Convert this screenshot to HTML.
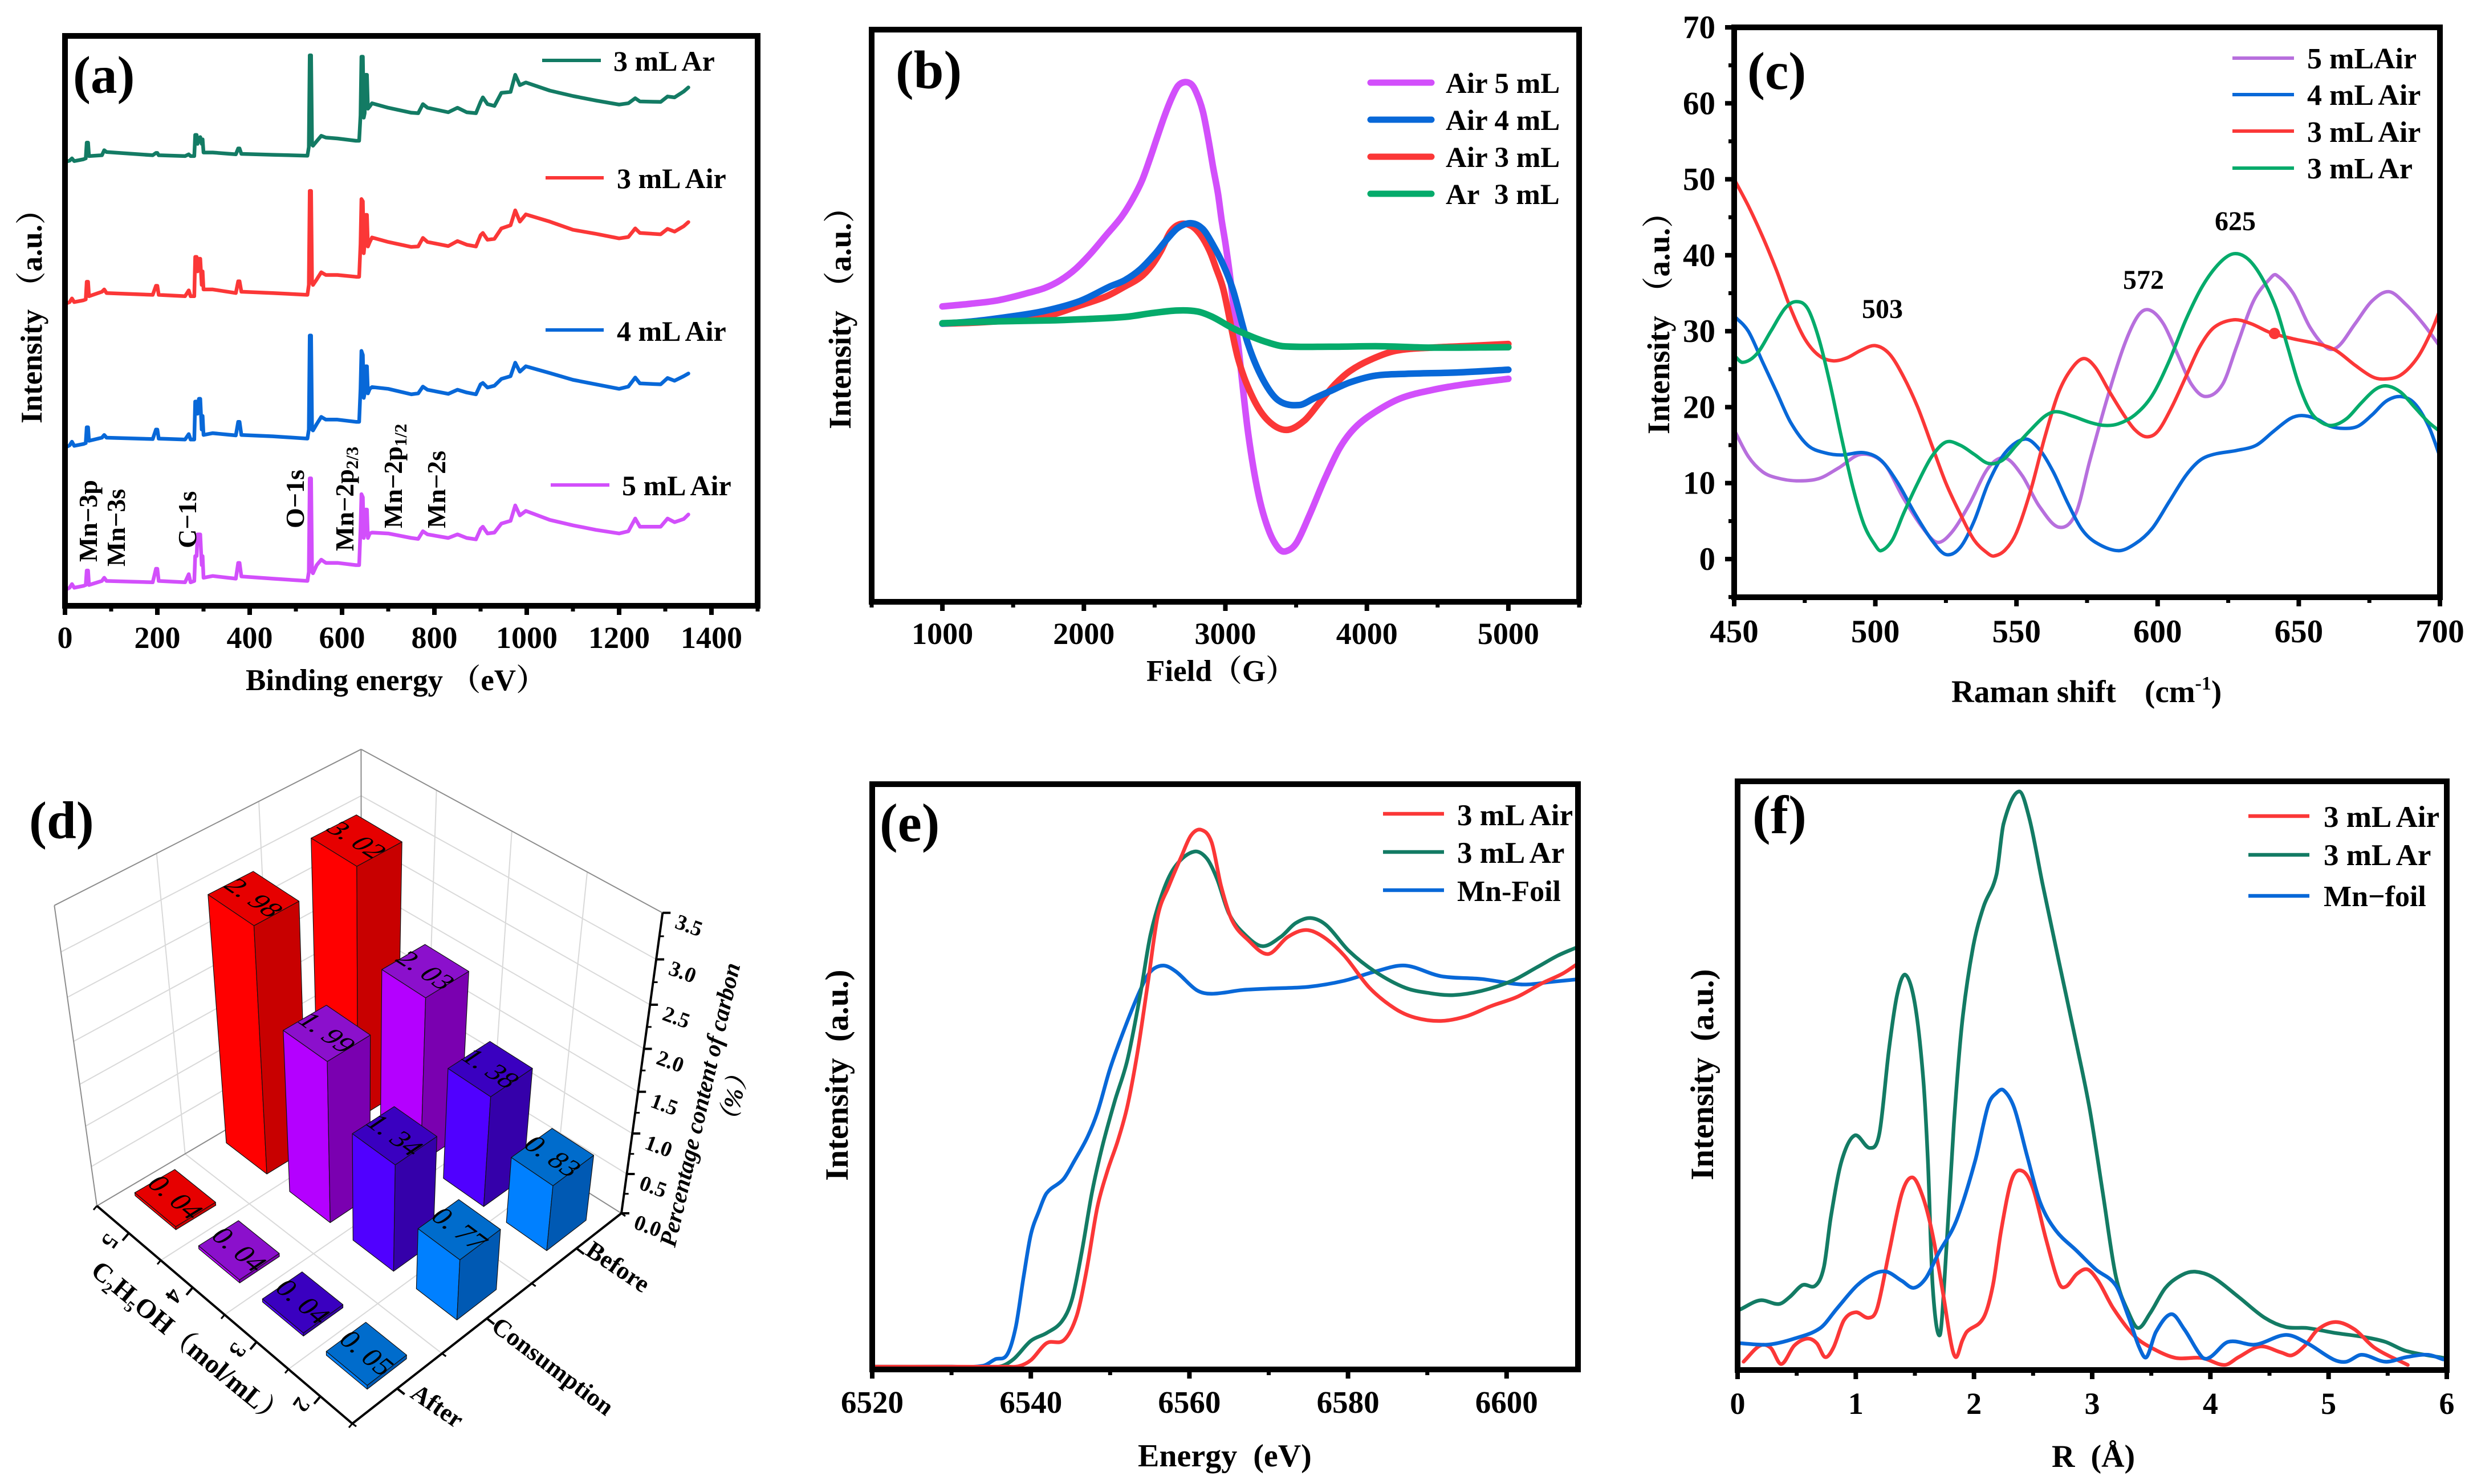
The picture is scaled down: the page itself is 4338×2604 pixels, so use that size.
<!DOCTYPE html>
<html lang="en">
<head>
<meta charset="utf-8">
<title>Six-panel characterization figure</title>
<style>
html,body{margin:0;padding:0;background:#fff;}
svg{display:block;font-family:"Liberation Serif","Noto Serif CJK SC",serif;font-weight:bold;fill:#000;}
</style>
</head>
<body>
<svg id="figure" xmlns="http://www.w3.org/2000/svg" width="4338" height="2604" viewBox="0 0 4338 2604">
<rect x="0" y="0" width="4338" height="2604" fill="#fff"/>
<g id="plots"></g>

<g>
<text x="128" y="163" font-size="93">(a)</text>
<text x="431" y="1211" font-size="53">Binding energy （eV）</text>
<text transform="translate(73,743) rotate(-90)" font-size="53">Intensity （a.u.）</text>
<line x1="951" y1="106" x2="1054" y2="106" stroke="#137b64" stroke-width="6"/>
<text x="1076" y="124" font-size="50">3 mL Ar</text>
<line x1="957" y1="312" x2="1059" y2="312" stroke="#fb3737" stroke-width="6"/>
<text x="1082" y="330" font-size="50">3 mL Air</text>
<line x1="957" y1="579" x2="1059" y2="579" stroke="#0868d8" stroke-width="6"/>
<text x="1082" y="598" font-size="50">4 mL Air</text>
<line x1="966" y1="851" x2="1069" y2="851" stroke="#d24ffb" stroke-width="6"/>
<text x="1091" y="869" font-size="50">5 mL Air</text>
<text transform="translate(170,986) rotate(-90)" font-size="46">Mn−3p</text>
<text transform="translate(219,994) rotate(-90)" font-size="46">Mn−3s</text>
<text transform="translate(344,962) rotate(-90)" font-size="46">C−1s</text>
<text transform="translate(533,927) rotate(-90)" font-size="46">O−1s</text>
<text transform="translate(620,967) rotate(-90)" font-size="46">Mn−2p<tspan font-size="31" dy="8">2/3</tspan></text>
<text transform="translate(705,927) rotate(-90)" font-size="46">Mn−2p<tspan font-size="31" dy="8">1/2</tspan></text>
<text transform="translate(781,927) rotate(-90)" font-size="46">Mn−2s</text>
</g>

<g>
<text x="1571" y="155" font-size="95">(b)</text>
<text x="2011" y="1195" font-size="53">Field（G）</text>
<text transform="translate(1492,753) rotate(-90)" font-size="55">Intensity （a.u.）</text>
<g stroke-linecap="round" stroke-width="11">
<line x1="2404" y1="145" x2="2511" y2="145" stroke="#d24ffb"/>
<line x1="2404" y1="210" x2="2511" y2="210" stroke="#0868d8"/>
<line x1="2404" y1="275" x2="2511" y2="275" stroke="#fb3737"/>
<line x1="2404" y1="340" x2="2511" y2="340" stroke="#05ab6b"/>
</g>
<text x="2536" y="163" font-size="51">Air 5 mL</text>
<text x="2536" y="228" font-size="51">Air 4 mL</text>
<text x="2536" y="293" font-size="51">Air 3 mL</text>
<text x="2536" y="358" font-size="51" xml:space="preserve">Ar&#160;&#160;3 mL</text>
</g>

<g>
<text x="3065" y="156" font-size="93">(c)</text>
<text x="3423" y="1232" font-size="55">Raman shift</text>
<text x="3762" y="1232" font-size="55">(cm<tspan font-size="34" dy="-22">-1</tspan><tspan dy="22">)</tspan></text>
<text transform="translate(2928,762) rotate(-90)" font-size="55">Intensity （a.u.）</text>
<g stroke-width="6">
<line x1="3916" y1="102" x2="4024" y2="102" stroke="#b76fdd"/>
<line x1="3916" y1="166" x2="4024" y2="166" stroke="#0868d8"/>
<line x1="3916" y1="230" x2="4024" y2="230" stroke="#fb3737"/>
<line x1="3916" y1="295" x2="4024" y2="295" stroke="#05ab6b"/>
</g>
<text x="4047" y="120" font-size="52">5 mLAir</text>
<text x="4047" y="184" font-size="52">4 mL Air</text>
<text x="4047" y="249" font-size="52">3 mL Air</text>
<text x="4047" y="313" font-size="52">3 mL Ar</text>
<text x="3302" y="558" font-size="48" text-anchor="middle">503</text>
<text x="3760" y="507" font-size="48" text-anchor="middle">572</text>
<text x="3921" y="404" font-size="48" text-anchor="middle">625</text>
</g>

<g>
<text x="51" y="1471" font-size="93">(d)</text>
<text transform="translate(1184,2190) rotate(-77)" font-size="42" font-style="italic">Percentage content of carbon</text>
<text transform="translate(1288,1990) rotate(-78)" font-size="43" font-style="italic">（%）</text>
<text transform="translate(157,2234) rotate(39.6)" font-size="47">C<tspan font-size="28" dy="10">2</tspan><tspan dy="-10">H</tspan><tspan font-size="28" dy="10">5</tspan><tspan dy="-10">OH（mol/mL）</tspan></text>
<text transform="translate(759,2479) rotate(34.6)" font-size="44" text-anchor="middle">After</text>
<text transform="translate(961,2409) rotate(37)" font-size="44" text-anchor="middle">Consumption</text>
<text transform="translate(1076,2235) rotate(34)" font-size="44" text-anchor="middle">Before</text>
</g>

<g>
<text x="1543" y="1476" font-size="95">(e)</text>
<text x="1996" y="2573" font-size="56" xml:space="preserve">Energy&#160;&#160;(eV)</text>
<text transform="translate(1487,2072) rotate(-90)" font-size="57" xml:space="preserve">Intensity&#160;&#160;(a.u.)</text>
<g stroke-width="6.5">
<line x1="2426" y1="1428" x2="2533" y2="1428" stroke="#fb3737"/>
<line x1="2426" y1="1495" x2="2533" y2="1495" stroke="#137b64"/>
<line x1="2426" y1="1562" x2="2533" y2="1562" stroke="#0868d8"/>
</g>
<text x="2556" y="1448" font-size="53">3 mL Air</text>
<text x="2556" y="1514" font-size="53">3 mL Ar</text>
<text x="2556" y="1581" font-size="52">Mn-Foil</text>
</g>

<g>
<text x="3074" y="1462" font-size="95">(f)</text>
<text x="3599" y="2574" font-size="56" xml:space="preserve">R&#160;&#160;(Å)</text>
<text transform="translate(3005,2071) rotate(-90)" font-size="57" xml:space="preserve">Intensity&#160;&#160;(a.u.)</text>
<g stroke-width="6.5">
<line x1="3944" y1="1432" x2="4051" y2="1432" stroke="#fb3737"/>
<line x1="3944" y1="1500" x2="4051" y2="1500" stroke="#137b64"/>
<line x1="3944" y1="1572" x2="4051" y2="1572" stroke="#0868d8"/>
</g>
<text x="4076" y="1451" font-size="53">3 mL Air</text>
<text x="4076" y="1518" font-size="53">3 mL Ar</text>
<text x="4076" y="1590" font-size="52">Mn−foil</text>
</g>
</svg>

<script>
/* ---------- panel a: XPS survey ---------- */
const xpsEnergy = [0,10,15,20,40,45,47,50,52,80,85,90,190,197,200,203,260,268,272,280,282,285,287,290,293,296,298,300,320,370,375,378,382,450,525,528,530,533,535,537,545,555,565,590,630,637,640,642,645,647,649,651,654,656,660,665,700,750,765,775,785,830,850,870,890,900,905,915,930,945,965,975,985,998,1050,1100,1150,1200,1220,1235,1245,1290,1305,1320,1340,1350];
const xpsAr3 = [982,985,990,984,988,990,1025,1025,995,997,1008,1004,997,1002,1002,997,995,999,995,995,1042,1042,1022,1035,1037,1022,1032,1003,1003,999,1012,1012,1000,998,996,1015,1218,1218,1020,1018,1028,1040,1036,1034,1029,1029,1085,1215,1215,1080,1090,1175,1175,1100,1105,1112,1102,1091,1090,1110,1102,1092,1102,1092,1090,1115,1125,1110,1106,1135,1137,1175,1152,1158,1140,1128,1118,1109,1112,1123,1116,1115,1127,1125,1138,1147];
const xpsAir3 = [668,672,680,672,676,678,717,717,685,695,700,692,688,708,708,688,685,698,685,685,772,772,740,768,768,710,740,700,700,692,718,718,695,692,688,710,918,918,715,710,722,738,732,732,728,728,800,900,895,780,800,865,865,795,805,815,805,794,795,814,805,796,807,799,795,820,825,810,812,835,842,875,850,866,850,832,823,813,816,835,825,822,834,828,840,849];
const xpsAir4 = [350,355,363,354,358,360,395,395,365,372,378,372,369,390,390,370,368,380,368,368,452,452,425,458,458,390,420,378,382,377,407,407,378,375,370,390,598,598,390,388,402,418,412,412,407,407,480,564,555,460,470,530,530,470,480,484,480,468,470,485,478,469,478,472,468,490,493,483,487,502,508,538,518,530,515,500,490,480,485,505,492,490,504,498,508,514];
const xpsAir5 = [35,40,48,40,44,46,78,78,46,55,62,55,52,82,82,55,52,70,52,55,110,110,158,158,158,90,110,62,66,60,95,95,65,60,55,75,282,282,75,72,90,102,95,95,90,90,170,247,240,150,160,213,213,150,160,162,160,150,148,165,158,150,158,150,147,170,175,160,162,182,188,222,200,210,190,178,168,160,165,193,175,175,193,185,192,202];
const xpsMajorTicks = [0,200,400,600,800,1000,1200,1400];
const xpsMinorTicks = [100,300,500,700,900,1100,1300,1500];

/* ---------- panel b: EPR ---------- */
const eprFieldAir5 = [1000,1200,1400,1619,1725,1834,1941,2048,2156,2263,2344,2410,2465,2519,2572,2626,2666,2712,2760,2793,2841,2881,2913,2948,2974,3002,3034,3088,3160,3232,3304,3376,3430,3502,3592,3700,3808,3916,4060,4240,4456,4672,5000];
const eprAir5 = [653,659,667,684,694,711,736,770,810,850,890,931,978,1028,1076,1118,1141,1149,1144,1127,1084,1020,961,902,843,789,717,575,375,240,160,118,112,130,190,270,340,385,420,450,468,480,493];
const eprFieldAir4 = [1000,1216,1468,1720,1972,2183,2289,2398,2505,2586,2666,2760,2841,2913,2988,3055,3160,3268,3376,3520,3628,3736,3880,4060,4276,4636,5000];
const eprAir4 = [615,620,630,643,665,697,711,735,770,801,827,837,824,789,743,688,570,490,445,435,450,465,485,500,504,507,513];
const eprFieldAir3 = [1000,1216,1468,1720,1972,2156,2289,2398,2478,2545,2611,2680,2760,2827,2888,2934,2988,3088,3196,3304,3430,3556,3664,3772,3880,4024,4204,4456,4744,5000];
const eprAir3 = [615,617,622,630,655,675,697,717,743,776,818,835,831,810,776,738,688,540,450,400,380,400,440,480,510,535,555,562,566,570];
const eprFieldAr3 = [1000,1396,1756,2008,2296,2476,2656,2800,2908,3052,3196,3304,3412,3736,4096,4456,5000];
const eprAr3 = [616,620,622,625,630,638,644,642,630,605,585,573,565,564,565,562,563];
const eprMajorTicks = [1000,2000,3000,4000,5000];
const eprMinorTicks = [500,1500,2500,3500,4500,5500];

/* ---------- panel c: Raman ---------- */
const ramanXAir5 = [450,455,460,465,472,480,487,495,503,510,517,522,527,533,540,546,552,558,565,571,576,582,588,593,597,602,607,612,617,623,628,634,640,642,648,654,660,664,670,676,682,688,694,700];
const ramanAir5 = [17,13.5,11.5,10.7,10.3,10.6,12,13.8,12.6,8,4,2.2,3.5,7,12,13.3,11,7,4.2,6,13,21,28,32,32.8,31,27,23,21.4,23,28,34,37,37.4,35,30.5,27.8,28,31,34,35.2,33.5,31,28];
const ramanXAir4 = [450,455,460,465,470,476,482,488,496,502,508,514,520,525,530,535,540,546,553,558,563,568,573,578,586,592,598,604,610,615,620,628,635,641,647,651,656,661,666,671,676,681,686,691,696,700];
const ramanAir4 = [32,30,26,22,18,15,14,13.7,14,13,10,6,2.5,0.6,1.5,5,10,14,15.8,14.5,11.5,7.5,4,2.2,1.1,2,4,7.5,11,13,13.8,14.3,15,16.8,18.5,18.9,18.5,17.5,17.2,17.5,19,20.8,21.4,20.5,17.5,13.5];
const ramanXAir3 = [450,455,460,465,470,475,480,485,490,495,500,505,510,515,520,525,530,535,540,542,546,550,555,560,565,570,574,578,583,588,592,596,600,605,610,615,620,627,633,640,648,657,663,670,676,680,686,692,697,700];
const ramanAir3 = [50,46.5,42.5,38,33,29,26.8,26.1,26.5,27.5,28.1,27,24,20,15,10,6,2.5,0.7,0.4,1.2,3.5,9,16,22,25.3,26.4,25.2,22,19,17,16.1,16.8,20,24,28,30.5,31.5,31,29.8,29,28.3,27.5,25.5,24,23.7,24.2,26.5,30,32.8];
const ramanXAr3 = [450,453,458,463,468,472,476,480,484,488,492,496,500,502,506,510,515,520,525,530,535,540,545,550,555,560,564,570,576,581,586,592,598,604,610,616,622,627,632,637,642,646,650,654,658,662,667,672,677,681,686,691,696,700];
const ramanAr3 = [26.8,25.9,27,30,33,33.9,33,29,23,16,9.5,4.5,1.8,1.1,2.5,6,10,13.5,15.4,15,13.8,12.6,13,15,17,18.8,19.4,18.8,18,17.6,17.8,19,21.5,26,31.5,36,39,40.2,39.5,37,33,28,23,19.5,18,17.6,18.5,20.5,22.3,22.8,22,20,18,16.8];
const ramanMarkerX = [641.4];
const ramanMarkerY = [29.7];
const ramanXMajorTicks = [450,500,550,600,650,700];
const ramanXMinorTicks = [475,525,575,625,675];
const ramanYMajorTicks = [0,10,20,30,40,50,60,70];
const ramanYMinorTicks = [-5,5,15,25,35,45,55,65];

/* ---------- panel d: 3D bars ---------- */
const concentrations = [5,4,3,2];
const treatments = ['After','Consumption','Before'];
const carbonAfter = [0.04,0.04,0.04,0.05];
const carbonConsumption = [2.98,1.99,1.34,0.77];
const carbonBefore = [3.02,2.03,1.38,0.83];
const carbonZTicks = [0,0.5,1,1.5,2,2.5,3,3.5];

/* ---------- panel e: XANES ---------- */
const xanesEAir = [6520,6530,6537,6538.5,6540,6542,6544.2,6545.8,6547,6548.4,6549.7,6551,6552.2,6553.5,6554.8,6556,6557.4,6559,6560.2,6561.5,6562.8,6564,6565.4,6567.3,6569.9,6572.4,6574.7,6576.9,6579.5,6582.7,6585.9,6588.5,6591.7,6594.9,6598,6601.3,6604.5,6607,6608.8];
const xanesAir = [6,6,6,7,20,57,64,117,212,352,432,497,572,692,842,982,1047,1112,1157,1169,1142,1047,972,932,900,937,952,937,897,827,782,762,755,765,787,807,837,857,877];
const xanesEAr = [6520,6530,6536,6537.8,6540,6542,6543.9,6545.2,6546.4,6547.7,6549,6550.6,6552.2,6553.8,6555.1,6556.7,6558.3,6560.6,6562.2,6563.5,6565,6567,6569.2,6571.5,6573.4,6575.3,6577.3,6580.1,6583.4,6587.2,6590.4,6593.3,6596.8,6600.7,6603.9,6606.5,6608.8];
const xanesAr = [6,6,6,22,62,79,104,152,252,382,482,582,672,812,942,1037,1092,1122,1107,1062,987,942,917,937,967,978,962,907,862,827,815,811,820,842,872,897,914];
const xanesEFoil = [6520,6530,6534,6535.5,6537,6538.1,6539.1,6540,6541,6542,6544.1,6545.5,6547.1,6548.4,6550,6551.9,6553.8,6555.1,6556.7,6558.3,6560.9,6562.8,6566.7,6569.9,6575,6579.5,6583.4,6587.2,6591.7,6596.8,6602,6605.8,6608.8];
const xanesFoil = [6,6,8,22,32,92,202,292,342,382,412,452,502,557,652,742,822,862,875,862,822,814,822,825,829,842,862,875,852,846,834,840,845];
const xanesMajorTicks = [6520,6540,6560,6580,6600];
const xanesMinorTicks = [6530,6550,6570,6590];

/* ---------- panel f: EXAFS ---------- */
const exafsRAir = [0.05,0.19,0.28,0.37,0.48,0.59,0.67,0.74,0.81,0.9,1,1.11,1.18,1.28,1.39,1.48,1.57,1.65,1.74,1.81,1.85,1.9,1.94,2.08,2.16,2.23,2.32,2.41,2.5,2.61,2.72,2.78,2.87,2.96,3.05,3.18,3.36,3.54,3.71,3.93,4.12,4.24,4.42,4.6,4.69,4.8,4.91,5.06,5.22,5.39,5.67];
const exafsAir = [18,53,48,13,53,68,58,28,48,108,125,113,133,253,383,417,373,293,163,53,28,63,83,113,183,303,413,431,393,283,188,181,208,218,193,133,73,43,26,26,11,28,51,38,32,53,88,104,88,48,11];
const exafsRAr = [0.02,0.19,0.35,0.44,0.55,0.66,0.73,0.79,0.88,0.99,1.12,1.2,1.28,1.35,1.42,1.5,1.57,1.61,1.65,1.71,1.75,1.83,1.9,1.99,2.08,2.19,2.25,2.38,2.47,2.58,2.72,2.87,2.98,3.09,3.2,3.31,3.39,3.49,3.62,3.76,3.87,4.02,4.24,4.46,4.64,4.82,5.04,5.31,5.48,5.66,6];
const exafsAr = [131,151,143,158,184,183,223,333,453,508,481,513,693,813,856,793,633,453,183,75,193,533,753,913,1003,1073,1183,1253,1193,1053,883,703,563,383,203,123,91,123,178,206,213,201,158,113,93,91,81,71,61,41,25];
const exafsRFoil = [0.02,0.26,0.48,0.7,0.84,1.01,1.15,1.26,1.39,1.49,1.59,1.7,1.85,2.01,2.12,2.19,2.25,2.34,2.45,2.56,2.69,2.87,3.03,3.2,3.31,3.4,3.46,3.54,3.67,3.78,3.93,4,4.15,4.38,4.64,4.82,5.04,5.15,5.28,5.48,5.66,5.84,5.97];
const exafsFoil = [58,55,68,91,133,183,208,213,193,178,198,253,323,453,573,600,606,568,463,363,303,258,218,183,113,48,28,83,121,88,28,28,61,55,76,58,23,18,33,18,28,33,23];
const exafsMajorTicks = [0,1,2,3,4,5,6];
const exafsMinorTicks = [0.5,1.5,2.5,3.5,4.5,5.5];

/* ---------- helpers ---------- */
const SVG_NS = 'http://www.w3.org/2000/svg';
const plots = document.getElementById('plots');

function mk(tag){ return document.createElementNS(SVG_NS, tag); }
function scale(d0,d1,r0,r1){ return function(v){ return r0+(v-d0)*(r1-r0)/(d1-d0); }; }

function panelGroup(name){
  const g = mk('g');
  
  
  plots.appendChild(g);
  return g;
}

function straightPath(xs,ys,sx,sy){
  let d='';
  for(let i=0;i<xs.length;i++){ d+=(i?'L':'M')+sx(xs[i]).toFixed(1)+' '+sy(ys[i]).toFixed(1); }
  return d;
}

function smoothPath(xs,ys,sx,sy){
  const px=xs.map(sx), py=ys.map(sy), n=px.length;
  const m=px.map(function(x,i){
    const a=Math.max(i-1,0), b=Math.min(i+1,n-1);
    return (py[b]-py[a])/(px[b]-px[a]);
  });
  let d='M'+px[0].toFixed(1)+' '+py[0].toFixed(1);
  for(let i=0;i<n-1;i++){
    const h=px[i+1]-px[i];
    d+='C'+(px[i]+h/3).toFixed(1)+' '+(py[i]+m[i]*h/3).toFixed(1)+' '+(px[i+1]-h/3).toFixed(1)+' '+(py[i+1]-m[i+1]*h/3).toFixed(1)+' '+px[i+1].toFixed(1)+' '+py[i+1].toFixed(1);
  }
  return d;
}

function drawSeries(parent,name,d,color,width){
  const el = mk('path');
  el.setAttribute('d', d);
  el.setAttribute('fill', 'none');
  el.setAttribute('stroke', color);
  el.setAttribute('stroke-width', width);
  el.setAttribute('stroke-linejoin', 'round');
  el.setAttribute('stroke-linecap', 'round');
  
  
  parent.appendChild(el);
}

function drawLine(parent,name,x1,y1,x2,y2,color,width){
  const el = mk('line');
  el.setAttribute('x1', x1);
  el.setAttribute('y1', y1);
  el.setAttribute('x2', x2);
  el.setAttribute('y2', y2);
  el.setAttribute('stroke', color);
  el.setAttribute('stroke-width', width);
  
  
  parent.appendChild(el);
}

function drawText(parent,name,str,x,y,size,anchor,transform){
  const el = mk('text');
  if(transform){ el.setAttribute('transform', transform); }
  else { el.setAttribute('x', x); el.setAttribute('y', y); }
  el.setAttribute('font-size', size);
  el.setAttribute('text-anchor', anchor);
  
  
  el.textContent = str;
  parent.appendChild(el);
  return el;
}

function drawFrame(parent,name,box){
  const el = mk('rect');
  el.setAttribute('x', box.l);
  el.setAttribute('y', box.t);
  el.setAttribute('width', box.r-box.l);
  el.setAttribute('height', box.b-box.t);
  el.setAttribute('fill', 'none');
  el.setAttribute('stroke', '#000');
  el.setAttribute('stroke-width', 10);
  
  
  parent.appendChild(el);
}

function drawXTicks(parent,box,sx,major,minor,labelY,size){
  major.forEach(function(v){
    drawLine(parent,'x-tick-major',sx(v),box.b,sx(v),box.b+16,'#000',8);
    drawText(parent,'x-tick-label',String(v),sx(v),labelY,size,'middle');
  });
  minor.forEach(function(v){
    drawLine(parent,'x-tick-minor',sx(v),box.b,sx(v),box.b+10,'#000',7);
  });
}

/* ---------- panel a ---------- */
(function(){
  const g = panelGroup('panel-a-xps');
  const box = {l:114,r:1329,t:63,b:1063};
  const sx = scale(0,1500,box.l,box.r);
  const sy = scale(0,1261,box.b,box.t);
  drawSeries(g,'series-3ml-ar',straightPath(xpsEnergy,xpsAr3,sx,sy),'#137b64',6.5);
  drawSeries(g,'series-3ml-air',straightPath(xpsEnergy,xpsAir3,sx,sy),'#fb3737',6.5);
  drawSeries(g,'series-4ml-air',straightPath(xpsEnergy,xpsAir4,sx,sy),'#0868d8',6.5);
  drawSeries(g,'series-5ml-air',straightPath(xpsEnergy,xpsAir5,sx,sy),'#d24ffb',6.5);
  drawFrame(g,'plot-frame-a',box);
  drawXTicks(g,box,sx,xpsMajorTicks,xpsMinorTicks,1137,54);
})();

/* ---------- panel b ---------- */
(function(){
  const g = panelGroup('panel-b-epr');
  const box = {l:1529,r:2770,t:52,b:1056};
  const sx = scale(500,5500,box.l,box.r);
  const sy = scale(0,1265,box.b,box.t);
  drawSeries(g,'series-air-5ml',smoothPath(eprFieldAir5,eprAir5,sx,sy),'#d24ffb',11.5);
  drawSeries(g,'series-air-3ml',smoothPath(eprFieldAir3,eprAir3,sx,sy),'#fb3737',11.5);
  drawSeries(g,'series-air-4ml',smoothPath(eprFieldAir4,eprAir4,sx,sy),'#0868d8',11.5);
  drawSeries(g,'series-ar-3ml',smoothPath(eprFieldAr3,eprAr3,sx,sy),'#05ab6b',11.5);
  drawFrame(g,'plot-frame-b',box);
  drawXTicks(g,box,sx,eprMajorTicks,eprMinorTicks,1130,54);
})();

/* ---------- panel c ---------- */
(function(){
  const g = panelGroup('panel-c-raman');
  const box = {l:3042,r:4280,t:48,b:1048};
  const sx = scale(450,700,box.l,box.r);
  const sy = scale(0,70,981,48);
  drawSeries(g,'series-5ml-air',smoothPath(ramanXAir5,ramanAir5,sx,sy),'#b76fdd',6);
  drawSeries(g,'series-4ml-air',smoothPath(ramanXAir4,ramanAir4,sx,sy),'#0868d8',6);
  drawSeries(g,'series-3ml-air',smoothPath(ramanXAir3,ramanAir3,sx,sy),'#fb3737',6);
  drawSeries(g,'series-3ml-ar',smoothPath(ramanXAr3,ramanAr3,sx,sy),'#05ab6b',6);
  ramanMarkerX.forEach(function(x,i){
    const dot = mk('circle');
    dot.setAttribute('cx', sx(x));
    dot.setAttribute('cy', sy(ramanMarkerY[i]));
    dot.setAttribute('r', 10);
    dot.setAttribute('fill', '#fb3737');
    
    
    g.appendChild(dot);
  });
  drawFrame(g,'plot-frame-c',box);
  drawXTicks(g,box,sx,ramanXMajorTicks,ramanXMinorTicks,1127,57);
  ramanYMajorTicks.forEach(function(v){
    drawLine(g,'y-tick-major',box.l-16,sy(v),box.l,sy(v),'#000',8);
    drawText(g,'y-tick-label',String(v),3009,sy(v)+19,57,'end');
  });
  ramanYMinorTicks.forEach(function(v){
    drawLine(g,'y-tick-minor',box.l-10,sy(v),box.l,sy(v),'#000',7);
  });
})();

/* ---------- panel d ---------- */
(function(){
  const g = panelGroup('panel-d-3d-bars');
  const L=[170,2116], F=[618,2498], R=[1090,2129], B=[634,1842];
  const zMax = 3.5;
  function floor(u,v){
    const a=(1-u)*(1-v), b=u*(1-v), c=u*v, d=(1-u)*v;
    return [a*L[0]+b*F[0]+c*R[0]+d*B[0], a*L[1]+b*F[1]+c*R[1]+d*B[1]];
  }
  function zHeight(z){ return 135.8*z+4.24*z*z; }
  function proj(u,v,z){
    const p=floor(u,v), h=zHeight(z);
    return [p[0]+h*(p[0]-637.6)*0.000303, p[1]-h];
  }
  function barProj(u,v,z){
    const p=floor(u,v), x=p[0]+16*(1-u)*v, h=zHeight(z)*0.985;
    return [x+h*(x-637.6)*0.000303+2, p[1]-h-9];
  }
  function uPos(i){ return (i+0.5)/concentrations.length; }
  function vPos(j){ return (j+0.5)/treatments.length; }
  function seg(name,a,b,color,w){ drawLine(g,name,a[0].toFixed(1),a[1].toFixed(1),b[0].toFixed(1),b[1].toFixed(1),color,w); }

  const gridColor='#d9d9d9', edgeColor='#8c8c8c';
  for(let k=1;k<concentrations.length;k++){
    const u=k/concentrations.length;
    seg('floor-grid-line',proj(u,0,0),proj(u,1,0),gridColor,2);
    seg('right-wall-grid-line',proj(u,1,0),proj(u,1,zMax),gridColor,2);
  }
  for(let k=1;k<treatments.length;k++){
    const v=k/treatments.length;
    seg('floor-grid-line',proj(0,v,0),proj(1,v,0),gridColor,2);
    seg('left-wall-grid-line',proj(0,v,0),proj(0,v,zMax),gridColor,2);
  }
  carbonZTicks.forEach(function(z){
    if(z>0 && z<zMax){
      seg('left-wall-grid-line',proj(0,0,z),proj(0,1,z),gridColor,2);
      seg('right-wall-grid-line',proj(0,1,z),proj(1,1,z),gridColor,2);
    }
  });
  seg('wall-edge',proj(0,0,0),proj(0,0,zMax),edgeColor,2);
  seg('wall-edge',proj(0,1,0),proj(0,1,zMax),edgeColor,2);
  seg('wall-edge',proj(0,0,zMax),proj(0,1,zMax),edgeColor,2);
  seg('wall-edge',proj(0,1,zMax),proj(1,1,zMax),edgeColor,2);
  seg('wall-edge',proj(0,0,0),proj(0,1,0),edgeColor,2);
  seg('wall-edge',proj(0,1,0),proj(1,1,0),edgeColor,2);

  const faceColors=[
    {left:'#ff0000',right:'#c80000',top:'#e60000'},
    {left:'#b400ff',right:'#7a00b0',top:'#8b10cc'},
    {left:'#5000ff',right:'#3500aa',top:'#3a00c0'},
    {left:'#0080ff',right:'#0059b3',top:'#006ccc'}
  ];
  const rows=[carbonAfter,carbonConsumption,carbonBefore];
  const du=0.16, dv=0.146;
  function face(name,pts,fill){
    const el = mk('polygon');
    el.setAttribute('points', pts.map(function(p){ return p[0].toFixed(1)+','+p[1].toFixed(1); }).join(' '));
    el.setAttribute('fill', fill);
    el.setAttribute('stroke', '#111');
    el.setAttribute('stroke-width', 1.2);
    el.setAttribute('stroke-linejoin', 'round');
    
    
    g.appendChild(el);
  }
  for(let j=treatments.length-1;j>=0;j--){
    for(let i=0;i<concentrations.length;i++){
      const val=rows[j][i], u=uPos(i), v=vPos(j), c=faceColors[i];
      const u0=u-du/2,u1=u+du/2,v0=v-dv/2,v1=v+dv/2;
      const bl=barProj(u0,v0,0), bf=barProj(u1,v0,0), br=barProj(u1,v1,0);
      const tl=barProj(u0,v0,val), tf=barProj(u1,v0,val), tr=barProj(u1,v1,val), tb=barProj(u0,v1,val);
      const key=treatments[j].toLowerCase()+'-'+concentrations[i];
      face('bar-left-face-'+key,[bl,bf,tf,tl],c.left);
      face('bar-right-face-'+key,[bf,br,tr,tf],c.right);
      face('bar-top-face-'+key,[tl,tf,tr,tb],c.top);
      const cx=(tl[0]+tr[0])/2, cy=(tl[1]+tr[1])/2;
      let ax=tf[0]-tl[0], ay=tf[1]-tl[1], dx=tf[0]-tr[0], dy=tf[1]-tr[1];
      const an=Math.hypot(ax,ay), dn=Math.hypot(dx,dy);
      ax/=an; ay/=an; dx/=dn; dy/=dn;
      const lab=drawText(g,'bar-value-label-'+key,val.toFixed(2).replace('.','. '),0,0,50,'middle',
        'matrix('+ax.toFixed(3)+' '+ay.toFixed(3)+' '+dx.toFixed(3)+' '+dy.toFixed(3)+' '+cx.toFixed(1)+' '+cy.toFixed(1)+')');
      lab.setAttribute('y', 16);
      lab.setAttribute('font-weight', 'normal');
    }
  }

  seg('concentration-axis',proj(0,0,0),proj(1,0,0),'#000',4);
  seg('treatment-axis',proj(1,0,0),proj(1,1,0),'#000',4);
  seg('z-axis',proj(1,1,0),proj(1,1,zMax),'#000',4);
  concentrations.forEach(function(c,i){
    const p=proj(uPos(i),0,0);
    drawLine(g,'concentration-tick',p[0],p[1],p[0]-11,p[1]+13,'#000',4);
    drawText(g,'concentration-tick-label',String(c),0,0,40,'middle','translate('+(p[0]-44).toFixed(1)+','+(p[1]+7).toFixed(1)+') rotate(125)');
  });
  for(let k=0;k<=concentrations.length;k++){
    const p=proj(k/concentrations.length,0,0);
    drawLine(g,'concentration-tick-minor',p[0],p[1],p[0]-6,p[1]+7,'#000',3);
  }
  treatments.forEach(function(t,j){
    const p=proj(1,vPos(j),0);
    drawLine(g,'treatment-tick',p[0],p[1],p[0]+13,p[1]+10,'#000',4);
  });
  for(let k=0;k<=treatments.length;k++){
    const p=proj(1,k/treatments.length,0);
    drawLine(g,'treatment-tick-minor',p[0],p[1],p[0]+7,p[1]+5,'#000',3);
  }
  carbonZTicks.forEach(function(z){
    const p=proj(1,1,z);
    drawLine(g,'z-tick',p[0],p[1],p[0]+14,p[1],'#000',4);
    drawText(g,'z-tick-label',z.toFixed(1),0,0,38,'middle','translate('+(p[0]+42).toFixed(1)+','+(p[1]+34).toFixed(1)+') rotate(20)');
    if(z<zMax){
      const q=proj(1,1,z+0.25);
      drawLine(g,'z-tick-minor',q[0],q[1],q[0]+8,q[1],'#000',3);
    }
  });
})();

/* ---------- panel e ---------- */
(function(){
  const g = panelGroup('panel-e-xanes');
  const box = {l:1530,r:2768,t:1376,b:2403};
  const sx = scale(6520,6609,box.l,box.r);
  const sy = scale(0,1268,box.b,box.t);
  drawSeries(g,'series-mn-foil',smoothPath(xanesEFoil,xanesFoil,sx,sy),'#0868d8',6.5);
  drawSeries(g,'series-3ml-ar',smoothPath(xanesEAr,xanesAr,sx,sy),'#137b64',6.5);
  drawSeries(g,'series-3ml-air',smoothPath(xanesEAir,xanesAir,sx,sy),'#fb3737',6.5);
  drawFrame(g,'plot-frame-e',box);
  drawXTicks(g,box,sx,xanesMajorTicks,xanesMinorTicks,2479,55);
})();

/* ---------- panel f ---------- */
(function(){
  const g = panelGroup('panel-f-exafs');
  const box = {l:3048,r:4292,t:1371,b:2404};
  const sx = scale(0,6,box.l,box.r);
  const sy = scale(0,1275,box.b,box.t);
  drawSeries(g,'series-3ml-ar',smoothPath(exafsRAr,exafsAr,sx,sy),'#137b64',6.5);
  drawSeries(g,'series-3ml-air',smoothPath(exafsRAir,exafsAir,sx,sy),'#fb3737',6.5);
  drawSeries(g,'series-mn-foil',smoothPath(exafsRFoil,exafsFoil,sx,sy),'#0868d8',6.5);
  drawFrame(g,'plot-frame-f',box);
  drawXTicks(g,box,sx,exafsMajorTicks,exafsMinorTicks,2481,54);
})();
</script>
</body>
</html>
